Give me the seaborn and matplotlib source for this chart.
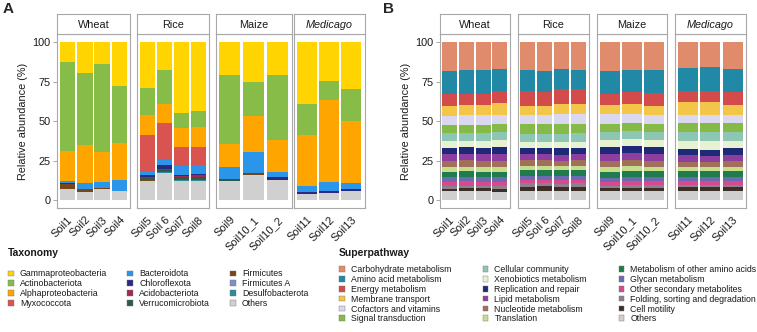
import numpy as np
import pandas as pd
import matplotlib
matplotlib.use("Agg")
import matplotlib.pyplot as plt
import seaborn as sns
from matplotlib.patches import Patch

# ---------------- data ----------------
crops = ["Wheat", "Rice", "Maize", "Medicago"]
soils_wheat = ["Soil1", "Soil2", "Soil3", "Soil4"]
soils_rice = ["Soil5", "Soil 6", "Soil7", "Soil8"]
soils_maize = ["Soil9", "Soil10_1", "Soil10_2"]
soils_medicago = ["Soil11", "Soil12", "Soil13"]

taxa = ["Gammaproteobacteria", "Actinobacteriota", "Alphaproteobacteria", "Myxococcota",
        "Bacteroidota", "Chloroflexota", "Acidobacteriota", "Verrucomicrobiota",
        "Firmicutes", "Firmicutes A", "Desulfobacterota", "Others"]
taxa_colors = ["#FFD400", "#86BC47", "#FFA500", "#D95350",
               "#2B95EA", "#2A2A82", "#A3294E", "#2E5B47",
               "#7A4519", "#7F8FC9", "#2A8C9E", "#D0D0D0"]

# values per taxon, soils in order Soil1..Soil13 (Soil10_1, Soil10_2)
gamma = [12.8, 19.5, 13.8, 27.5, 28.9, 17.8, 44.7, 43.6, 20.8, 25.0, 20.8, 39.0, 24.5, 29.6]
actino = [56.1, 45.3, 55.4, 36.2, 17.2, 21.2, 9.3, 10.3, 43.4, 21.5, 40.8, 19.5, 12.0, 19.9]
alpha = [18.7, 24.1, 19.0, 23.1, 12.8, 12.0, 12.3, 12.3, 14.8, 22.9, 20.6, 32.5, 52.0, 39.2]
myxo = [0, 0, 0, 0, 23.4, 23.7, 11.7, 11.6, 0, 0, 0, 0, 0, 0]
bactero = [1.6, 4.0, 3.8, 7.2, 1.6, 3.2, 6.0, 5.4, 7.2, 13.4, 2.9, 3.8, 5.8, 4.4]
chloro = [0.3, 0.2, 0.2, 0.2, 1.5, 2.5, 0.5, 1.0, 0.3, 0, 2.1, 1.0, 1.3, 1.2]
acido = [0, 0, 0, 0, 0.5, 0.5, 1.0, 1.0, 0, 0, 0, 0, 0, 0]
verruco = [0, 0, 0, 0, 0.8, 0.5, 1.2, 1.3, 1.4, 0.6, 0, 0, 0, 0]
firmic = [3.5, 1.4, 0.4, 0, 0.8, 0.8, 0.5, 0.5, 0, 0.8, 0, 0, 0, 0]
firmic_a = [0, 0, 0, 0, 0, 0, 0, 0, 0, 0, 0, 0, 0, 0]
desulfo = [0, 0, 0, 0, 0.5, 0.3, 0.8, 1.0, 0, 0, 0, 0, 0, 0]
tax_others = [7.0, 5.5, 7.4, 5.8, 12.0, 17.5, 12.0, 12.0, 12.1, 15.8, 12.8, 4.2, 4.4, 5.7]

paths = ["Carbohydrate metabolism", "Amino acid metabolism", "Energy metabolism",
         "Membrane transport", "Cofactors and vitamins", "Signal transduction",
         "Cellular community", "Xenobiotics metabolism", "Replication and repair",
         "Lipid metabolism", "Nucleotide metabolism", "Translation",
         "Metabolism of other amino acids", "Glycan metabolism", "Other secondary metabolites",
         "Folding, sorting and degradation", "Cell motility", "Others"]
path_colors = ["#E08B6B", "#2189A6", "#D44B4B", "#F3C64A", "#D9D8EE", "#86BA48",
               "#8DC7B3", "#E6F2D2", "#1E2A78", "#8D3E9E", "#A0705A", "#C8DD8C",
               "#1F7C4C", "#6C6BB2", "#D84A8E", "#8C7F8E", "#3B2F28", "#CFCFCF"]

carb = [18.1, 17.3, 17.7, 16.8, 17.5, 18.4, 17.0, 17.3, 17.9, 17.3, 17.5, 16.2, 15.8, 17.0]
amino = [14.7, 15.3, 14.9, 14.2, 13.5, 12.9, 12.8, 12.5, 15.1, 14.0, 14.9, 14.8, 14.8, 14.5]
energy = [7.3, 7.2, 7.3, 7.6, 9.1, 8.8, 9.2, 9.0, 7.0, 7.5, 8.1, 7.1, 7.5, 7.9]
membrane = [6.3, 6.4, 6.4, 7.2, 5.7, 5.7, 6.3, 6.5, 5.7, 6.5, 5.5, 7.7, 7.7, 6.4]
cofactors = [6.2, 6.2, 6.1, 5.6, 6.2, 6.0, 6.3, 6.2, 6.3, 6.0, 6.0, 5.2, 5.0, 5.4]
signal = [5.1, 5.0, 5.2, 5.3, 5.9, 6.0, 6.3, 6.2, 4.5, 5.0, 4.8, 5.7, 5.7, 5.5]
cellular = [4.8, 4.8, 4.9, 5.4, 5.2, 5.0, 5.3, 5.2, 5.2, 5.0, 4.9, 5.8, 5.8, 5.6]
xeno = [4.2, 4.3, 4.1, 4.2, 3.6, 3.8, 3.8, 3.8, 4.8, 4.6, 4.7, 4.8, 5.6, 4.6]
replication = [4.2, 4.0, 4.3, 4.6, 4.2, 4.3, 4.1, 4.1, 4.2, 4.4, 4.4, 4.2, 3.8, 4.1]
lipid = [4.1, 4.2, 4.0, 4.1, 3.8, 3.7, 3.7, 3.8, 4.1, 4.2, 4.1, 4.2, 4.0, 4.2]
nucleotide = [3.9, 3.9, 3.8, 3.9, 3.5, 3.4, 3.4, 3.4, 3.9, 3.9, 3.8, 3.2, 3.2, 3.5]
translation = [3.1, 3.0, 3.2, 3.1, 2.8, 2.9, 2.9, 2.9, 3.1, 3.0, 2.9, 2.5, 2.5, 2.7]
met_other_aa = [3.5, 3.6, 3.4, 3.5, 3.5, 3.4, 3.5, 3.5, 3.8, 3.7, 3.7, 3.8, 3.8, 3.8]
glycan = [2.8, 2.8, 2.8, 2.8, 2.7, 2.8, 2.7, 2.7, 2.5, 2.6, 2.5, 2.5, 2.5, 2.5]
other_sec = [2.5, 2.6, 2.5, 2.5, 2.1, 2.1, 2.2, 2.2, 2.7, 2.6, 2.6, 2.7, 2.7, 2.7]
folding = [1.7, 1.8, 1.7, 1.7, 2.1, 2.0, 2.0, 2.0, 1.6, 1.7, 1.6, 1.4, 1.4, 1.4]
motility = [1.7, 1.8, 1.8, 2.0, 2.9, 2.9, 2.7, 2.8, 1.6, 1.8, 1.9, 2.2, 2.0, 2.0]
path_others = [5.8, 5.8, 5.9, 5.5, 5.7, 5.9, 5.8, 5.9, 6.0, 6.2, 6.1, 6.0, 6.2, 6.2]

# ---------------- tables ----------------
crop_soils = [soils_wheat, soils_rice, soils_maize, soils_medicago]
all_soils = soils_wheat + soils_rice + soils_maize + soils_medicago
soil_crop = [c for c, ss in zip(crops, crop_soils) for _ in ss]

tax_values = [gamma, actino, alpha, myxo, bactero, chloro, acido, verruco,
              firmic, firmic_a, desulfo, tax_others]
path_values = [carb, amino, energy, membrane, cofactors, signal, cellular, xeno,
               replication, lipid, nucleotide, translation, met_other_aa, glycan,
               other_sec, folding, motility, path_others]


def long_table(names, values):
    rows = []
    for name, vals in zip(names, values):
        for soil, crop, v in zip(all_soils, soil_crop, vals):
            rows.append({"soil": soil, "crop": crop, "cat": name, "value": v})
    return pd.DataFrame(rows)


df_tax = long_table(taxa, tax_values)
df_path = long_table(paths, path_values)

# ---------------- style ----------------
sns.set_theme(style="white")
plt.rcParams["font.family"] = ["Liberation Sans", "DejaVu Sans"]

W, H = 757, 332
fig = plt.figure(figsize=(W / 100, H / 100), dpi=100)


def rect(x0, x1, y0, y1):
    return [x0 / W, 1 - y1 / H, (x1 - x0) / W, (y1 - y0) / H]


FRAME = "#A8A8A8"
TXT = "#1A1A1A"

panelA_x = [(57, 130), (137, 208.5), (215.5, 291.5), (293.5, 364.5)]
panelB_x = [(439.5, 510), (517.5, 588.5), (596.5, 667.5), (674.5, 746)]
STRIP_TOP, STRIP_BOT, PLOT_BOT = 13.5, 34.3, 208.3


def draw_panel(df, names, colors, xs):
    pal = dict(zip(names, colors))
    for i, (crop, soils, (x0, x1)) in enumerate(zip(crops, crop_soils, xs)):
        sub = df[df["crop"] == crop].copy()
        sub["soil"] = pd.Categorical(sub["soil"], categories=soils, ordered=True)
        ax = fig.add_axes(rect(x0, x1, STRIP_BOT, PLOT_BOT))
        sns.histplot(data=sub, x="soil", hue="cat", weights="value",
                     hue_order=names, palette=pal, multiple="stack",
                     discrete=True, shrink=0.9, alpha=1, linewidth=0,
                     legend=False, ax=ax)
        n = len(soils)
        ax.set_xlim(-0.6, n - 0.4)
        ax.set_ylim(-5, 105)
        ax.set_xticks(range(n))
        ax.set_xticklabels(soils, rotation=45, ha="right", rotation_mode="anchor",
                           fontsize=7.8, color=TXT)
        ax.set_xlabel("")
        ax.set_ylabel("")
        for s in ax.spines.values():
            s.set_color(FRAME)
            s.set_linewidth(0.8)
        ax.tick_params(axis="x", length=3, width=0.7, color=FRAME, pad=1.5)
        if i == 0:
            ax.set_yticks([0, 25, 50, 75, 100])
            ax.set_yticklabels(["0", "25", "50", "75", "100"], fontsize=7.8, color=TXT)
            ax.tick_params(axis="y", length=3, width=0.7, color=FRAME, pad=1.5, left=True)
            ax.set_ylabel("Relative abundance (%)", fontsize=7.8, color=TXT, labelpad=3)
        else:
            ax.set_yticks([])
        # strip
        sa = fig.add_axes(rect(x0, x1, STRIP_TOP, STRIP_BOT))
        sa.set_xticks([])
        sa.set_yticks([])
        for s in sa.spines.values():
            s.set_color(FRAME)
            s.set_linewidth(0.8)
        sa.set_facecolor("white")
        sa.text(0.5, 0.47, crop, ha="center", va="center", fontsize=7.8, color=TXT,
                style="italic" if crop == "Medicago" else "normal",
                transform=sa.transAxes)


draw_panel(df_tax, taxa, taxa_colors, panelA_x)
draw_panel(df_path, paths, path_colors, panelB_x)

fig.text(3 / W, 1 - 9 / H, "A", fontsize=11, fontweight="bold", va="center", ha="left")
fig.text(383 / W, 1 - 9 / H, "B", fontsize=11, fontweight="bold", va="center", ha="left")

# ---------------- legends ----------------
fig.text(8 / W, 1 - 253.3 / H, "Taxonomy", fontsize=7.5, fontweight="bold",
         va="center", ha="left", color=TXT)
fig.text(339 / W, 1 - 253.3 / H, "Superpathway", fontsize=7.5, fontweight="bold",
         va="center", ha="left", color=TXT)

tax_handles = [Patch(facecolor=c, edgecolor="#777777", linewidth=0.3) for c in taxa_colors]
leg1 = fig.legend(tax_handles, taxa, ncol=3, loc="upper left",
                  bbox_to_anchor=(8 / W, 1 - 269.5 / H), frameon=False,
                  fontsize=6.3, handlelength=0.65, handleheight=0.65,
                  handletextpad=0.7, columnspacing=2.3, labelspacing=0.1,
                  borderpad=0, borderaxespad=0)
for t in leg1.get_texts():
    t.set_color(TXT)

path_handles = [Patch(facecolor=c, edgecolor="#777777", linewidth=0.3) for c in path_colors]
leg2 = fig.legend(path_handles, paths, ncol=3, loc="upper left",
                  bbox_to_anchor=(339 / W, 1 - 265 / H), frameon=False,
                  fontsize=6.3, handlelength=0.65, handleheight=0.65,
                  handletextpad=0.7, columnspacing=3.6, labelspacing=0.1,
                  borderpad=0, borderaxespad=0)
for t in leg2.get_texts():
    t.set_color(TXT)

fig.savefig("out.png", dpi=100)
